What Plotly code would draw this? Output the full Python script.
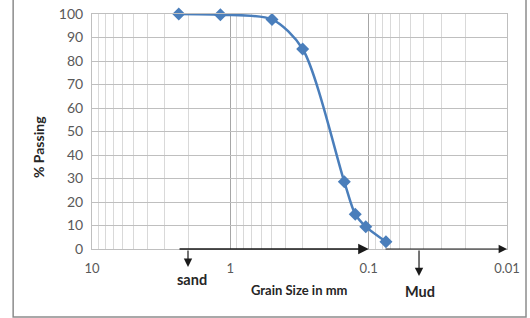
import math
import plotly.graph_objects as go

# Data
grain_size_mm = [2.36, 1.18, 0.5, 0.3, 0.15, 0.125, 0.105, 0.075]
percent_passing = [100, 99.7, 97.7, 85.1, 28.6, 14.8, 9.5, 3.1]
x_tick_vals = [10, 1, 0.1, 0.01]
x_tick_text = ["10", "1", "0.1", "0.01"]
y_tick_vals = [0, 10, 20, 30, 40, 50, 60, 70, 80, 90, 100]

minor_vals = [m * 10 ** e for e in (-2, -1, 0) for m in range(2, 10)]

BLUE = "#4A7EBB"
FONT = "Lato"

fig = go.Figure()
fig.add_trace(go.Scatter(
    x=grain_size_mm, y=percent_passing,
    mode="lines+markers",
    line=dict(color=BLUE, width=2.5, shape="spline", smoothing=0.8),
    marker=dict(symbol="diamond", size=10, color=BLUE),
    showlegend=False, cliponaxis=False,
))

fig.update_layout(
    template="none",
    width=530, height=318,
    margin=dict(l=92, r=23, t=14, b=69, autoexpand=False),
    paper_bgcolor="white", plot_bgcolor="white",
    font=dict(family=FONT, color="#595959"),
    xaxis=dict(
        type="log", range=[1, -2], automargin=False,
        tickvals=x_tick_vals, ticktext=x_tick_text,
        tickfont=dict(size=13, color="#595959", family=FONT),
        showgrid=True, gridcolor="#A6A6A6", gridwidth=1,
        minor=dict(tickvals=minor_vals, showgrid=True, gridcolor="#D9D9D9", gridwidth=1, ticklen=0),
        ticks="outside", ticklen=0, ticklabelstandoff=7,
        showline=True, linecolor="#BFBFBF", mirror=True, zeroline=False,
    ),
    yaxis=dict(
        range=[0, 100], tickvals=y_tick_vals, automargin=False,
        tickfont=dict(size=14, color="#595959", family=FONT),
        showgrid=True, gridcolor="#BFBFBF", gridwidth=1,
        ticks="outside", ticklen=0, ticklabelstandoff=5,
        showline=True, linecolor="#BFBFBF", mirror=True, zeroline=False,
    ),
)

TXT = dict(xref="paper", yref="paper", showarrow=False, xanchor="center", yanchor="middle")
annotations = []
# y-axis title
annotations.append(dict(text="<b>% Passing</b>", x=-0.130, y=0.434, textangle=-90,
                        font=dict(size=14, color="#262626", family=FONT), **TXT))
# x-axis title
annotations.append(dict(text="<b>Grain Size in mm</b>", x=0.499, y=-0.174,
                        font=dict(size=13, color="#262626", family=FONT), **TXT))
annotations.append(dict(text="<b>sand</b>", x=0.241, y=-0.128,
                        font=dict(size=14.5, color="#262626", family=FONT), **TXT))
annotations.append(dict(text="<b>Mud</b>", x=0.790, y=-0.179,
                        font=dict(size=14.5, color="#262626", family=FONT), **TXT))
# horizontal arrows (log units)
annotations.append(dict(x=-1.0, y=0, xref="x", yref="y", ax=0.378, ay=0,
                        axref="x", ayref="y", text="", showarrow=True,
                        arrowhead=2, arrowsize=1.4, arrowwidth=1.5, arrowcolor="#1a1a1a"))
annotations.append(dict(x=-2.0, y=0, xref="x", yref="y", ax=-1.111, ay=0,
                        axref="x", ayref="y", text="", showarrow=True,
                        arrowhead=2, arrowsize=1.4, arrowwidth=1.2, arrowcolor="#1a1a1a"))
# down arrows
annotations.append(dict(x=0.306, y=-0.0766, xref="x", yref="paper", ax=0, ay=-18,
                        text="", showarrow=True, arrowhead=2, arrowsize=1.4,
                        arrowwidth=1.2, arrowcolor="#1a1a1a"))
annotations.append(dict(x=-1.364, y=-0.115, xref="x", yref="paper", ax=0, ay=-27,
                        text="", showarrow=True, arrowhead=2, arrowsize=1.4,
                        arrowwidth=1.2, arrowcolor="#1a1a1a"))
fig.update_layout(annotations=annotations)

# outer chart border
fig.add_shape(type="rect", xref="paper", yref="paper",
              x0=-0.190, x1=1.0458, y0=-0.289, y1=1.10,
              line=dict(color="#8C8C8C", width=1.5))

fig.write_html("out.html", config={"displayModeBar": False},
               post_script="document.body.style.margin='0';")
